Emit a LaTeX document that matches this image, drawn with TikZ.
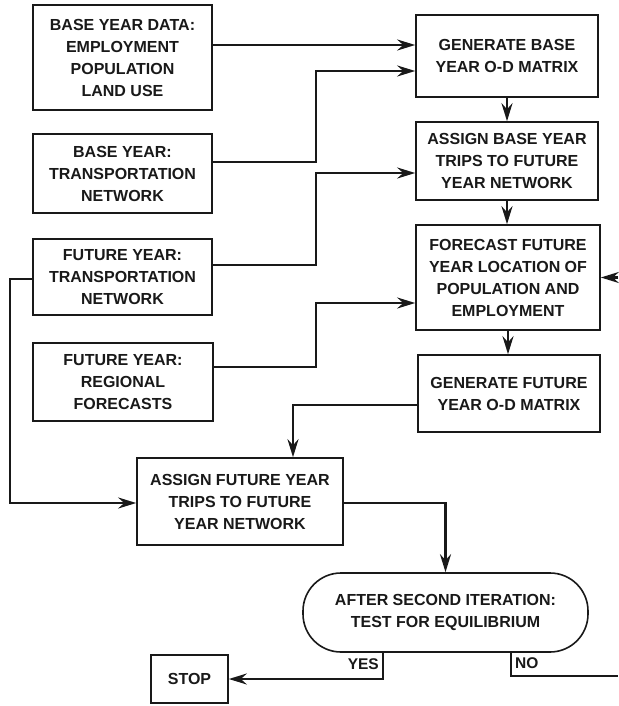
\documentclass[tikz,border=0pt]{standalone}
\usepackage{fontspec}
\setmainfont{Liberation Sans}
\usetikzlibrary{arrows.meta,calc}
\definecolor{ink}{RGB}{25,25,25}
\begin{document}
\begin{tikzpicture}[x=1pt,y=-1pt,
  box/.style={draw=ink,line width=1.6pt,rectangle,inner sep=0pt,align=center,
    font=\fontsize{16}{22}\selectfont\bfseries,text=ink},
  wire/.style={draw=ink,line width=2.6pt,line join=miter},
  conn/.style={wire,-{Stealth[length=18pt,width=11pt,inset=6pt]}},
  lbl/.style={font=\fontsize{15.5}{18}\selectfont\bfseries,text=ink,inner sep=0pt}]
\useasboundingbox (0,0) rectangle (618,706);
\fill[white] (0,0) rectangle (618,706);

% left column
\node[box,minimum width=179pt,minimum height=105pt] (A) at (122.5,57.5)
  {BASE YEAR DATA:\\EMPLOYMENT\\POPULATION\\LAND USE};
\node[box,minimum width=179pt,minimum height=79pt] (B) at (122.5,173.5)
  {BASE YEAR:\\TRANSPORTATION\\NETWORK};
\node[box,minimum width=179pt,minimum height=76pt] (C) at (122.5,277)
  {FUTURE YEAR:\\TRANSPORTATION\\NETWORK};
\node[box,minimum width=180pt,minimum height=78pt] (D) at (123,382)
  {FUTURE YEAR:\\REGIONAL\\FORECASTS};

% right column
\node[box,minimum width=182pt,minimum height=82pt] (E) at (507,56)
  {GENERATE BASE\\YEAR O-D MATRIX};
\node[box,minimum width=182pt,minimum height=78pt] (F) at (507,161)
  {ASSIGN BASE YEAR\\TRIPS TO FUTURE\\YEAR NETWORK};
\node[box,minimum width=184pt,minimum height=105pt] (G) at (508,277.5)
  {FORECAST FUTURE\\YEAR LOCATION OF\\POPULATION AND\\EMPLOYMENT};
\node[box,minimum width=182pt,minimum height=77pt] (H) at (509,393.5)
  {GENERATE FUTURE\\YEAR O-D MATRIX};

% lower part
\node[box,minimum width=206pt,minimum height=87pt] (I) at (240,501.5)
  {ASSIGN FUTURE YEAR\\TRIPS TO FUTURE\\YEAR NETWORK};
\node[box,rounded corners=38pt,minimum width=285pt,minimum height=79pt] (T) at (445.5,612.5)
  {AFTER SECOND ITERATION:\\TEST FOR EQUILIBRIUM};
\node[box,minimum width=77pt,minimum height=48pt] (S) at (189.5,679) {STOP};

% free ends
\coordinate (rin) at (618,277.5);
\coordinate (nout) at (618,676);

% connectors into the right column
\draw[conn] (A.east |- 0,45) -- (E.west |- 0,45);
\draw[conn] (B.east |- 0,162) -| (316,71) -- (E.west |- 0,71);
\draw[conn] (C.east |- 0,265) -| (316,173) -- (F.west |- 0,173);
\draw[conn] (D.east |- 0,367) -| (316,303) -- (G.west |- 0,303);
\draw[conn] (rin) -- (G.east);

% vertical chain
\draw[conn] (E.south) -- (E.south |- F.north);
\draw[conn] (F.south) -- (F.south |- G.north);
\draw[conn] (G.south) -- (G.south |- H.north);

% to the future-year assignment
\draw[conn] (H.west |- 0,405) -| (I.north -| 293,0);
\draw[conn] (C.west |- 0,279) -| (10,503) -- (I.west |- 0,503);
\draw[conn] (I.east |- 0,503) -| (T.north);

% test outcomes
\draw[conn] (T.south -| 383,0) |- (S.east);
\draw[wire] (T.south -| 511,0) |- (nout);
\node[lbl,anchor=east] (yes) at (379,664) {YES};
\node[lbl,anchor=west] (no) at (515,663) {NO};
\end{tikzpicture}
\end{document}
